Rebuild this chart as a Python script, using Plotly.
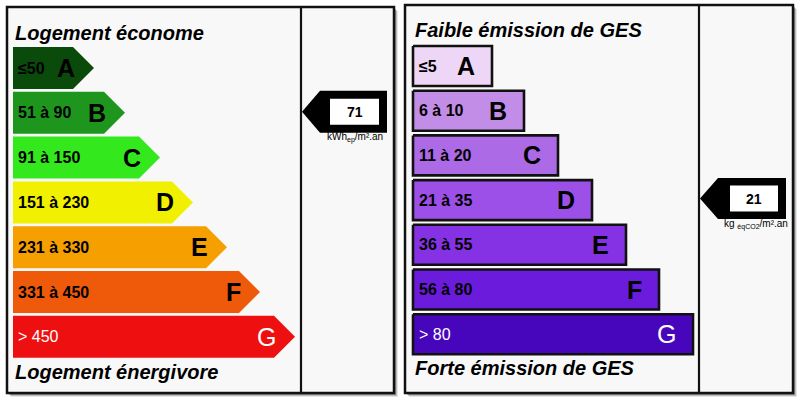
import plotly.graph_objects as go

# ---------------- data ----------------
classes = ["A", "B", "C", "D", "E", "F", "G"]

energy_ranges = ["≤50", "51 à 90", "91 à 150", "151 à 230", "231 à 330", "331 à 450", "> 450"]
energy_lengths = [81, 112, 147, 180, 214, 247, 282]
energy_colors = ["#0a4a0a", "#1e961e", "#33e81c", "#f0f000", "#f5a000", "#ef5a0a", "#ee1010"]
energy_text_colors = ["black", "black", "black", "black", "black", "black", "white"]
energy_value = 71
energy_class = "B"
energy_unit = "kWh<sub>ep</sub>/m².an"
energy_top_title = "Logement économe"
energy_bottom_title = "Logement énergivore"

ges_ranges = ["≤5", "6 à 10", "11 à 20", "21 à 35", "36 à 55", "56 à 80", "> 80"]
ges_lengths = [79, 111, 145, 179, 213, 246, 280]
ges_colors = ["#eed6f6", "#c28de6", "#ac6ae6", "#9c50e8", "#8532e4", "#6b1bdc", "#4806bc"]
ges_text_colors = ["black", "black", "black", "black", "black", "black", "white"]
ges_value = 21
ges_class = "D"
ges_unit = "kg <sub>éqCO2</sub>/m².an"
ges_top_title = "Faible émission de GES"
ges_bottom_title = "Forte émission de GES"

FONT = "Liberation Sans"

fig = go.Figure()
shapes = []
annotations = []


def panel_frame(x0, y0, x1, y1, xdiv):
    # shadow
    for off, col in [(4, "rgba(0,0,0,0.10)"), (3, "rgba(0,0,0,0.18)"), (2, "rgba(0,0,0,0.25)")]:
        shapes.append(dict(type="rect", xref="x", yref="y", x0=x0 + off, y0=y0 + off, x1=x1 + off, y1=y1 + off,
                           line=dict(width=0), fillcolor=col, layer="below"))
    shapes.append(dict(type="rect", xref="x", yref="y", x0=x0, y0=y0, x1=x1, y1=y1,
                       line=dict(color="#111", width=2.5), fillcolor="#f8f8f8", layer="below"))
    shapes.append(dict(type="line", xref="x", yref="y", x0=xdiv, y0=y0, x1=xdiv, y1=y1,
                       line=dict(color="#111", width=2.2)))


def add_poly(xs, ys, fill, line_color=None, line_width=0):
    fig.add_trace(go.Scatter(
        x=xs + [xs[0]], y=ys + [ys[0]], mode="lines", fill="toself", fillcolor=fill,
        line=dict(color=line_color or fill, width=line_width), hoverinfo="skip", showlegend=False))


def text(x, y, s, size, color="black", bold=True, italic=False, xanchor="left"):
    t = s
    if bold:
        t = "<b>" + t + "</b>"
    if italic:
        t = "<i>" + t + "</i>"
    annotations.append(dict(x=x, y=y, xref="x", yref="y", text=t, showarrow=False,
                            xanchor=xanchor, yanchor="middle",
                            font=dict(family=FONT, size=size, color=color)))


# ---------------- energy panel ----------------
panel_frame(7, 7, 394, 393, 301)
E_X0, E_TOP, E_PITCH, E_H, E_DEPTH = 13, 47, 44.8, 42, 21
text(13, 33, energy_top_title, 20, bold=True, italic=True)
text(13, 372, energy_bottom_title, 20, bold=True, italic=True)
for i, c in enumerate(classes):
    top = E_TOP + i * E_PITCH
    bot = top + E_H
    mid = (top + bot) / 2
    tip = E_X0 + energy_lengths[i]
    add_poly([E_X0, tip - E_DEPTH, tip, tip - E_DEPTH, E_X0], [top, top, mid, bot, bot], energy_colors[i])
    white = energy_text_colors[i] == "white"
    text(16, mid, energy_ranges[i], 16, energy_text_colors[i], bold=not white)
    text(tip - 17, mid, c, 25, energy_text_colors[i], bold=not white, xanchor="right")

# energy indicator
ei = classes.index(energy_class)
etop = E_TOP + ei * E_PITCH - 1
ebot = etop + E_H
emid = (etop + ebot) / 2
add_poly([302, 320, 387, 387, 320], [emid, etop, etop, ebot, ebot], "#000000")
shapes.append(dict(type="rect", xref="x", yref="y", x0=330, x1=379, y0=emid - 13, y1=emid + 13,
                   fillcolor="white", line=dict(width=0)))
text(354.5, emid, str(energy_value), 14, bold=True, xanchor="center")
text(355, ebot + 5, energy_unit, 10, bold=False, xanchor="center")

# ---------------- GES panel ----------------
panel_frame(405, 5, 793, 393, 699)
G_X0, G_TOP, G_PITCH, G_H = 413, 46, 44.7, 40
text(413, 30, ges_top_title, 20, bold=True, italic=True)
text(413, 368, ges_bottom_title, 20, bold=True, italic=True)
for i, c in enumerate(classes):
    top = G_TOP + i * G_PITCH
    bot = top + G_H
    mid = (top + bot) / 2
    end = G_X0 + ges_lengths[i]
    add_poly([G_X0, end, end, G_X0], [top, top, bot, bot], ges_colors[i], "#111111", 2.6)
    white = ges_text_colors[i] == "white"
    text(417, mid, ges_ranges[i], 16, ges_text_colors[i], bold=not white)
    text(end - 15, mid, c, 25, ges_text_colors[i], bold=not white, xanchor="right")

# GES indicator
gi = classes.index(ges_class)
gtop = G_TOP + gi * G_PITCH - 2
gbot = gtop + 41
gmid = (gtop + gbot) / 2
add_poly([700, 718, 786, 786, 718], [gmid, gtop, gtop, gbot, gbot], "#000000")
shapes.append(dict(type="rect", xref="x", yref="y", x0=730, x1=778, y0=gmid - 13, y1=gmid + 13,
                   fillcolor="white", line=dict(width=0)))
text(754, gmid, str(ges_value), 14, bold=True, xanchor="center")
text(756, gbot + 5, ges_unit, 10, bold=False, xanchor="center")

fig.update_layout(
    width=800, height=401,
    margin=dict(l=0, r=0, t=0, b=0),
    paper_bgcolor="white", plot_bgcolor="white",
    xaxis=dict(range=[0, 800], visible=False, fixedrange=True),
    yaxis=dict(range=[401, 0], visible=False, fixedrange=True),
    shapes=shapes, annotations=annotations, showlegend=False,
)

fig.write_html("out.html", config={"displayModeBar": False},
               post_script="document.body.style.margin='0px';document.body.style.overflow='hidden';")
